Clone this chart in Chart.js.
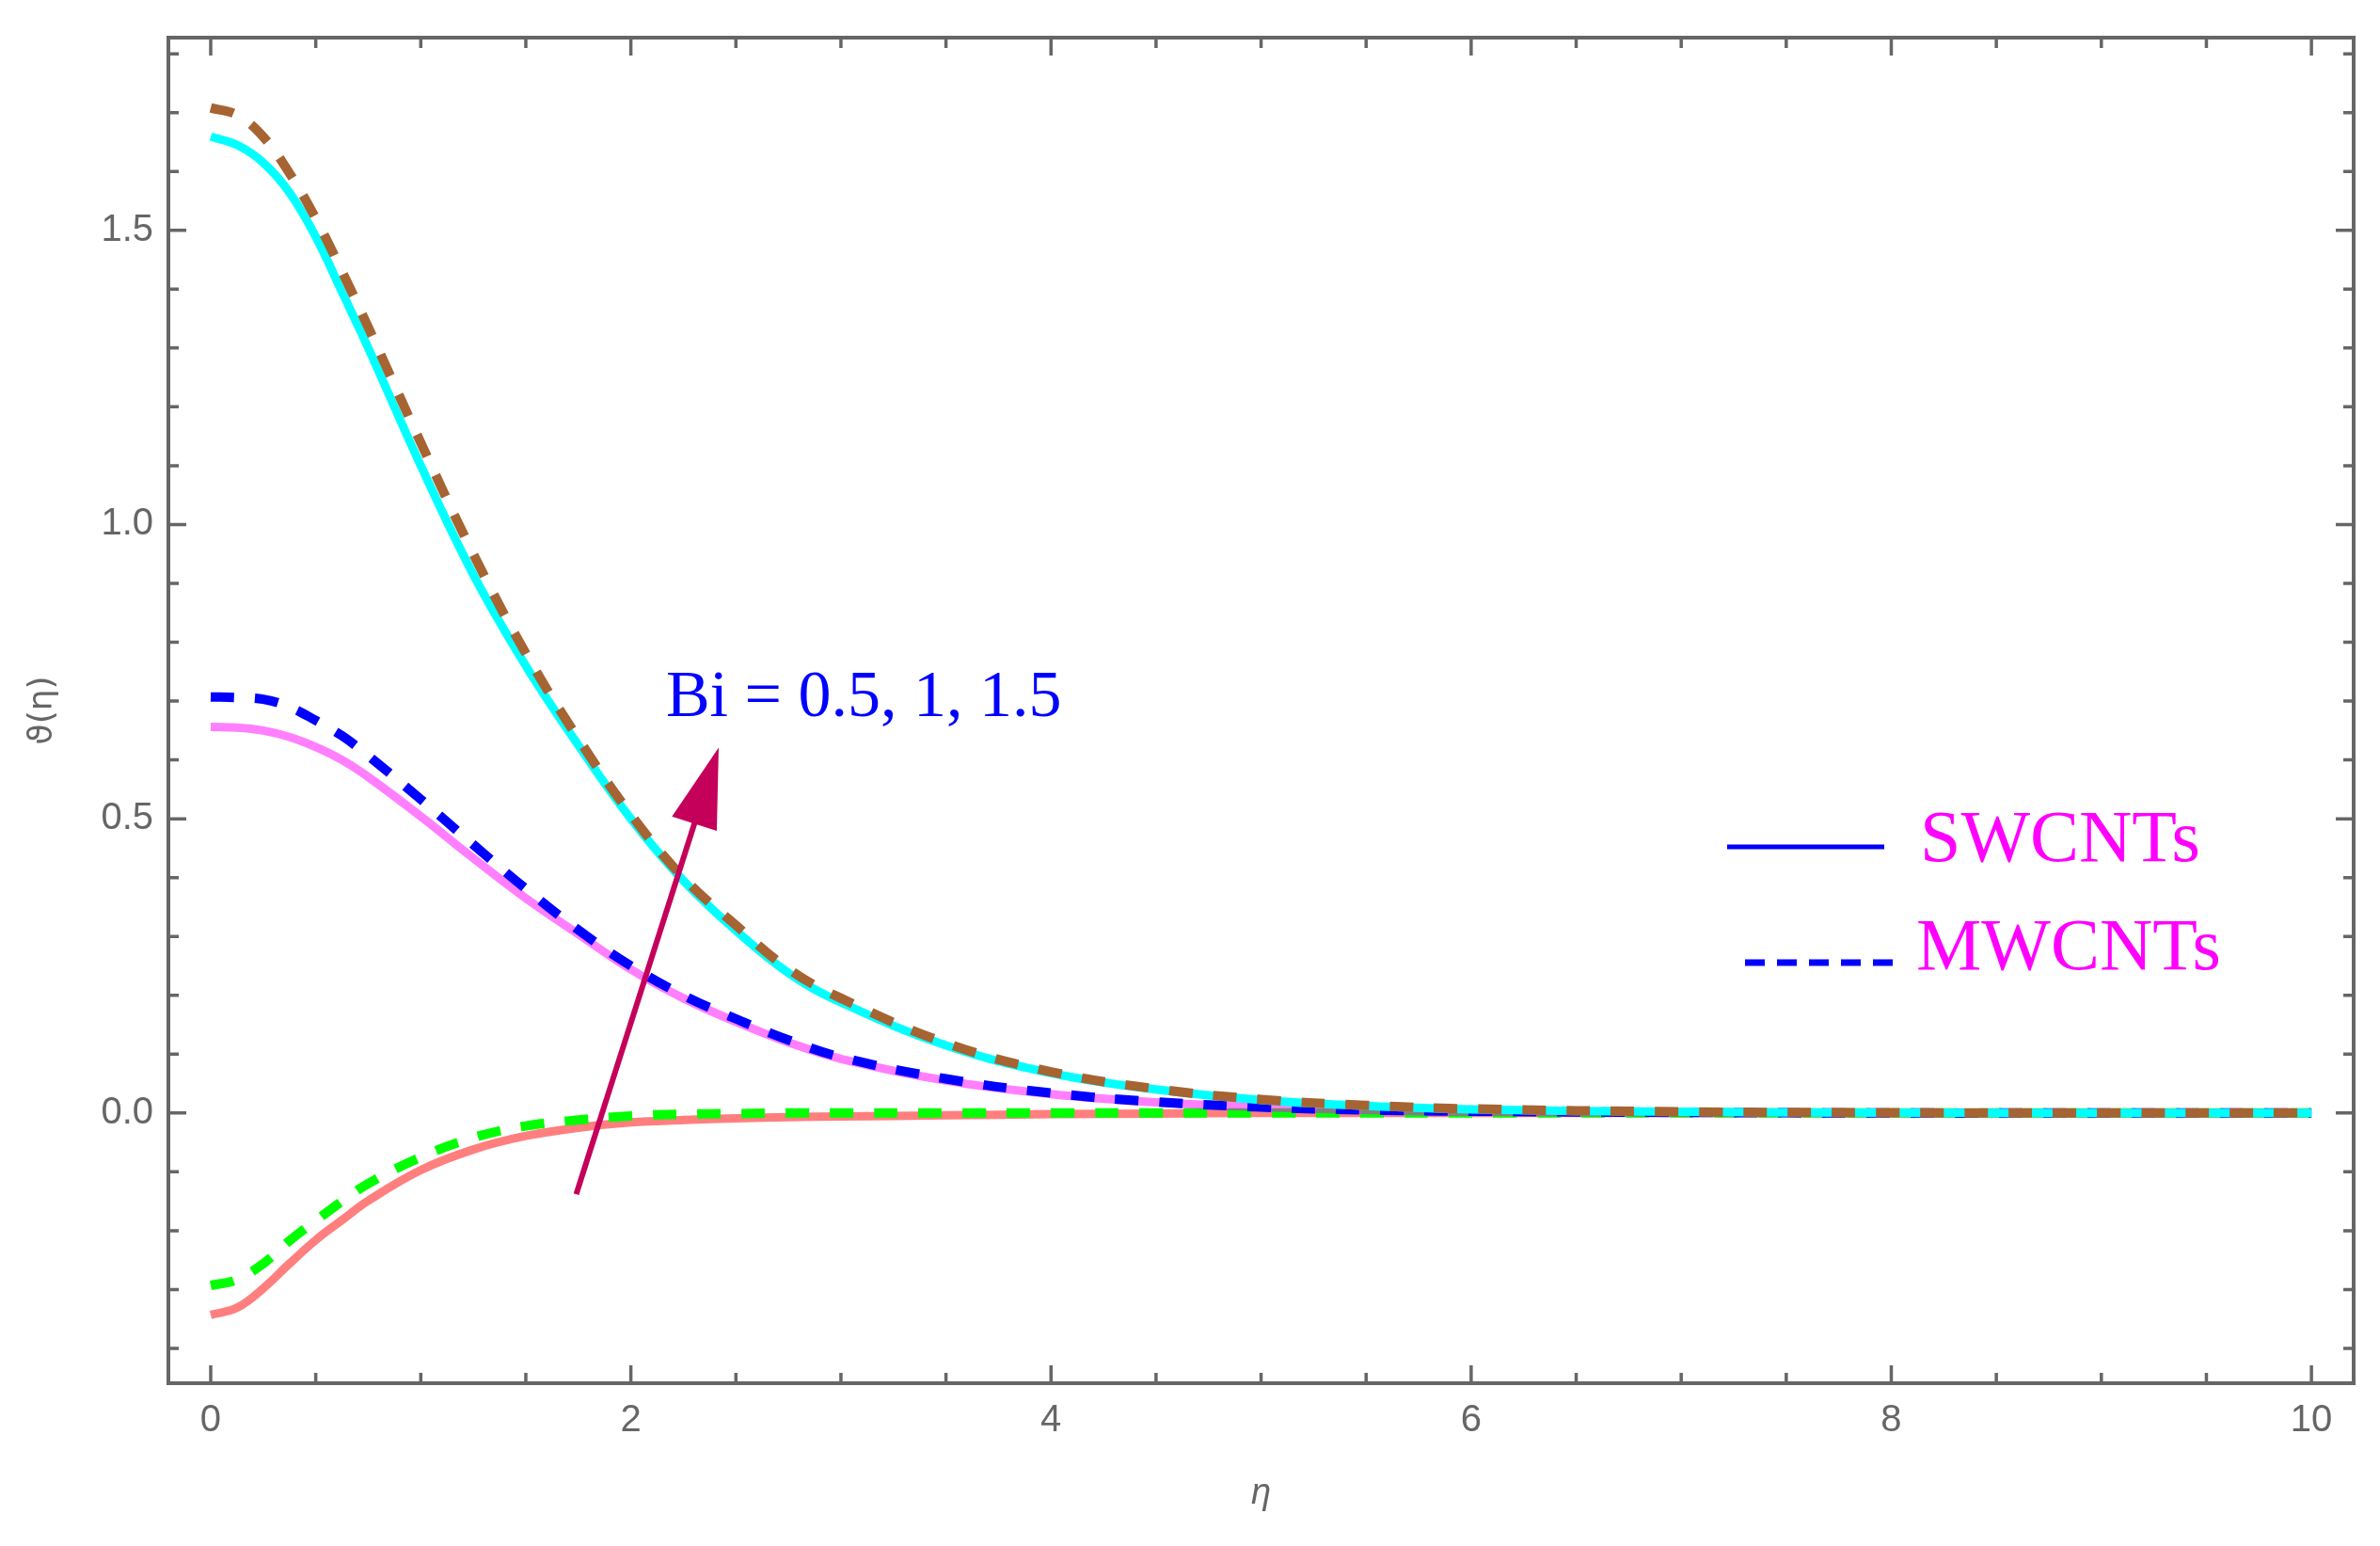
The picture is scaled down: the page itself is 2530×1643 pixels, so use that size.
<!DOCTYPE html>
<html>
<head>
<meta charset="utf-8">
<title>Temperature profile vs eta</title>
<script src="https://cdn.jsdelivr.net/npm/chart.js@4.4.1/dist/chart.umd.min.js"></script>
<style>
  html, body { margin: 0; padding: 0; background: #fff; }
  #wrap { width: 2530px; height: 1643px; }
</style>
</head>
<body>
<div id="wrap"><canvas id="thetaChart" width="2530" height="1643"></canvas></div>
<script>
// ---- data ----
const eta = [0, 0.125, 0.25, 0.375, 0.5, 0.625, 0.75, 1, 1.25, 1.5, 1.75, 2, 2.25, 2.5, 2.75, 3, 3.5, 4, 4.5, 5, 5.5, 6, 7, 8, 9, 10];

// SWCNTs (solid) and MWCNTs (dashed) for Bi = 0.5, 1, 1.5
const swBi05 = [-0.343, -0.331, -0.298, -0.256, -0.216, -0.182, -0.149, -0.097, -0.062, -0.039, -0.025, -0.016, -0.012, -0.009, -0.007, -0.006, -0.004, -0.002, -0.001, 0, 0, 0, 0, 0, 0, 0];
const mwBi05 = [-0.293, -0.283, -0.256, -0.217, -0.183, -0.150, -0.120, -0.075, -0.042, -0.022, -0.012, -0.005, -0.002, -0.001, 0, 0, 0, 0, 0, 0, 0, 0, 0, 0, 0, 0];
const swBi1  = [0.656, 0.655, 0.650, 0.639, 0.622, 0.600, 0.571, 0.504, 0.433, 0.365, 0.304, 0.244, 0.195, 0.155, 0.120, 0.092, 0.055, 0.032, 0.018, 0.010, 0.005, 0.002, 0.001, 0, 0, 0];
const mwBi1  = [0.707, 0.706, 0.703, 0.690, 0.667, 0.641, 0.607, 0.533, 0.456, 0.381, 0.311, 0.250, 0.200, 0.160, 0.124, 0.095, 0.058, 0.034, 0.019, 0.010, 0.005, 0.003, 0.001, 0, 0, 0];
const swBi15 = [1.659, 1.645, 1.615, 1.564, 1.489, 1.395, 1.300, 1.100, 0.915, 0.760, 0.625, 0.500, 0.395, 0.310, 0.238, 0.188, 0.115, 0.068, 0.040, 0.022, 0.012, 0.006, 0.002, 0.0005, 0, 0];
const mwBi15 = [1.708, 1.696, 1.659, 1.597, 1.520, 1.430, 1.335, 1.139, 0.950, 0.781, 0.636, 0.507, 0.400, 0.319, 0.245, 0.195, 0.119, 0.070, 0.041, 0.023, 0.013, 0.007, 0.002, 0.0005, 0, 0];

// ticks
const xTicks = [0, 2, 4, 6, 8, 10];
const yTicks = [0, 0.5, 1.0, 1.5];
const xMinorStep = 0.5;
const yMinorStep = 0.1;

// annotation (data coordinates)
const biLabel = 'Bi = 0.5, 1, 1.5';
const biLabelAt = [2.167, 0.675];
const arrowFrom = [1.74, -0.138];
const arrowTo = [2.418, 0.621];

const legendItems = ['SWCNTs', 'MWCNTs'];

const pts = ys => eta.map((x, i) => ({ x: x, y: ys[i] }));
const DASH = [25, 22];

function line(label, ys, color, dashed) {
    return {
        label: label,
        data: pts(ys),
        borderColor: color,
        borderWidth: dashed ? 10 : 9,
        borderDash: dashed ? DASH : [],
        borderCapStyle: 'butt',
        borderJoinStyle: 'round',
        pointRadius: 0,
        fill: false,
        tension: 0.4
    };
}

const FRAME = '#666666';

// ---- frame, inward ticks, annotation and legend ----
const decorPlugin = {
    id: 'decor',
    afterDraw(chart) {
        const ctx = chart.ctx;
        const a = chart.chartArea;
        const xs = chart.scales.x, ys = chart.scales.y;
        ctx.save();

        // frame
        ctx.strokeStyle = FRAME;
        ctx.lineWidth = 4;
        ctx.strokeRect(a.left, a.top, a.right - a.left, a.bottom - a.top);

        // ticks (all four sides, pointing inward)
        ctx.lineWidth = 3.5;
        ctx.beginPath();
        for (let k = -1; k <= 21; k++) {
            const v = k * xMinorStep;
            if (v < xs.min || v > xs.max) continue;
            const px = xs.getPixelForValue(v);
            const len = xTicks.some(t => Math.abs(t - v) < 1e-9) ? 19 : 11;
            ctx.moveTo(px, a.bottom); ctx.lineTo(px, a.bottom - len);
            ctx.moveTo(px, a.top); ctx.lineTo(px, a.top + len);
        }
        for (let k = -5; k <= 19; k++) {
            const v = k * yMinorStep;
            if (v < ys.min || v > ys.max) continue;
            const py = ys.getPixelForValue(v);
            const len = yTicks.some(t => Math.abs(t - v) < 1e-9) ? 19 : 11;
            ctx.moveTo(a.left, py); ctx.lineTo(a.left + len, py);
            ctx.moveTo(a.right, py); ctx.lineTo(a.right - len, py);
        }
        ctx.stroke();

        // arrow
        const x1 = xs.getPixelForValue(arrowFrom[0]), y1 = ys.getPixelForValue(arrowFrom[1]);
        const x2 = xs.getPixelForValue(arrowTo[0]), y2 = ys.getPixelForValue(arrowTo[1]);
        const L = Math.hypot(x2 - x1, y2 - y1);
        const ux = (x2 - x1) / L, uy = (y2 - y1) / L;
        const headLen = 85, headHalf = 25;
        const bx = x2 - ux * headLen, by = y2 - uy * headLen;
        ctx.strokeStyle = '#c4005a';
        ctx.fillStyle = '#c4005a';
        ctx.lineWidth = 6;
        ctx.lineCap = 'butt';
        ctx.beginPath();
        ctx.moveTo(x1, y1);
        ctx.lineTo(bx + ux * 10, by + uy * 10);
        ctx.stroke();
        ctx.beginPath();
        ctx.moveTo(x2, y2);
        ctx.lineTo(bx - uy * headHalf, by + ux * headHalf);
        ctx.lineTo(bx + uy * headHalf, by - ux * headHalf);
        ctx.closePath();
        ctx.fill();

        // Bi label
        ctx.fillStyle = '#0000ff';
        ctx.font = '70px "Liberation Serif", "Times New Roman", serif';
        ctx.textAlign = 'left';
        ctx.textBaseline = 'alphabetic';
        ctx.fillText(biLabel, xs.getPixelForValue(biLabelAt[0]), ys.getPixelForValue(biLabelAt[1]));

        // legend (solid / dashed samples)
        ctx.strokeStyle = '#0000ff';
        ctx.lineWidth = 5;
        ctx.setLineDash([]);
        ctx.beginPath();
        ctx.moveTo(1836, 900); ctx.lineTo(2003, 900);
        ctx.stroke();
        ctx.lineWidth = 7;
        ctx.setLineDash([21, 13]);
        ctx.beginPath();
        ctx.moveTo(1855, 1023); ctx.lineTo(2021, 1023);
        ctx.stroke();
        ctx.setLineDash([]);
        ctx.fillStyle = '#ff00ff';
        ctx.font = '78px "Liberation Serif", "Times New Roman", serif';
        ctx.fillText(legendItems[0], 2041, 915);
        ctx.fillText(legendItems[1], 2037, 1030);

        ctx.restore();
    }
};

const tickFont = { family: '"Liberation Sans", Arial, sans-serif', size: 40 };

new Chart(document.getElementById('thetaChart').getContext('2d'), {
    type: 'line',
    data: {
        datasets: [
            line('MWCNTs Bi=1.5', mwBi15, 'rgb(165,100,50)', true),
            line('SWCNTs Bi=1.5', swBi15, '#00ffff', false),
            line('MWCNTs Bi=1', mwBi1, '#0000ff', true),
            line('SWCNTs Bi=1', swBi1, 'rgba(255,0,255,0.5)', false),
            line('MWCNTs Bi=0.5', mwBi05, '#00ff00', true),
            line('SWCNTs Bi=0.5', swBi05, 'rgba(255,0,0,0.5)', false)
        ]
    },
    options: {
        responsive: false,
        devicePixelRatio: 1,
        animation: false,
        layout: { padding: { top: 31, right: 28, left: 0, bottom: 0 } },
        plugins: {
            legend: { display: false },
            tooltip: { enabled: false }
        },
        scales: {
            x: {
                type: 'linear',
                min: -0.2015,
                max: 10.201,
                afterBuildTicks: s => { s.ticks = xTicks.map(v => ({ value: v })); },
                afterFit: s => { s.height = 173; },
                grid: { display: false, drawTicks: false },
                border: { display: false },
                ticks: {
                    autoSkip: false,
                    maxRotation: 0,
                    padding: 16,
                    color: '#666',
                    font: tickFont,
                    callback: v => String(v)
                },
                title: {
                    display: true,
                    text: 'η',
                    color: '#666',
                    font: { family: '"Liberation Sans", Arial, sans-serif', size: 38, style: 'italic' },
                    padding: { top: 0, bottom: 33 }
                }
            },
            y: {
                type: 'linear',
                min: -0.4592,
                max: 1.8274,
                afterBuildTicks: s => { s.ticks = yTicks.map(v => ({ value: v })); },
                afterFit: s => { s.width = 179; },
                grid: { display: false, drawTicks: false },
                border: { display: false },
                ticks: {
                    padding: 16,
                    color: '#666',
                    font: tickFont,
                    callback: v => v.toFixed(1)
                },
                title: {
                    display: true,
                    text: 'ϑ(η)',
                    color: '#666',
                    font: { family: '"DejaVu Sans", sans-serif', size: 36 },
                    padding: { top: 24, bottom: 0 }
                }
            }
        }
    },
    plugins: [decorPlugin]
});
</script>
</body>
</html>
